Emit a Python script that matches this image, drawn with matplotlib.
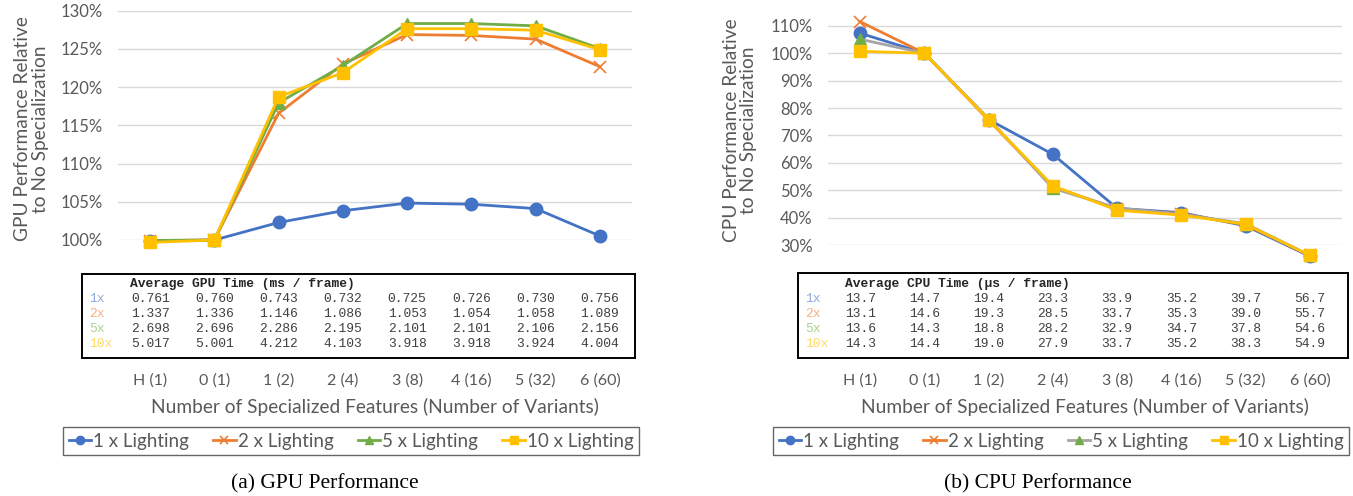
import matplotlib
matplotlib.use("Agg")
import matplotlib.pyplot as plt
from matplotlib.lines import Line2D
from matplotlib.patches import Rectangle
import matplotlib.transforms as mtransforms

W, H = 1353, 496
DPI = 100

categories = ["H (1)", "0 (1)", "1 (2)", "2 (4)", "3 (8)", "4 (16)", "5 (32)", "6 (60)"]
series_names = ["1 x Lighting", "2 x Lighting", "5 x Lighting", "10 x Lighting"]
row_labels = ["1x", "2x", "5x", "10x"]

# GPU relative performance
gpu_1x = [0.9987, 1.0000, 1.0229, 1.0383, 1.0483, 1.0468, 1.0411, 1.0053]
gpu_2x = [0.9993, 1.0000, 1.1658, 1.2302, 1.2688, 1.2676, 1.2628, 1.2268]
gpu_5x = [0.9993, 1.0000, 1.1794, 1.2282, 1.2832, 1.2832, 1.2802, 1.2505]
gpu_10x = [0.9968, 1.0000, 1.1873, 1.2189, 1.2764, 1.2764, 1.2745, 1.2490]

# CPU relative performance
cpu_1x = [1.073, 1.000, 0.758, 0.631, 0.434, 0.418, 0.370, 0.259]
cpu_2x = [1.115, 1.000, 0.756, 0.512, 0.433, 0.414, 0.374, 0.262]
cpu_5x = [1.051, 1.000, 0.761, 0.507, 0.435, 0.412, 0.378, 0.262]
cpu_10x = [1.007, 1.000, 0.758, 0.516, 0.427, 0.409, 0.376, 0.262]

# table values
gpu_time_1x = ["0.761", "0.760", "0.743", "0.732", "0.725", "0.726", "0.730", "0.756"]
gpu_time_2x = ["1.337", "1.336", "1.146", "1.086", "1.053", "1.054", "1.058", "1.089"]
gpu_time_5x = ["2.698", "2.696", "2.286", "2.195", "2.101", "2.101", "2.106", "2.156"]
gpu_time_10x = ["5.017", "5.001", "4.212", "4.103", "3.918", "3.918", "3.924", "4.004"]

cpu_time_1x = ["13.7", "14.7", "19.4", "23.3", "33.9", "35.2", "39.7", "56.7"]
cpu_time_2x = ["13.1", "14.6", "19.3", "28.5", "33.7", "35.3", "39.0", "55.7"]
cpu_time_5x = ["13.6", "14.3", "18.8", "28.2", "32.9", "34.7", "37.8", "54.6"]
cpu_time_10x = ["14.3", "14.4", "19.0", "27.9", "33.7", "35.2", "38.3", "54.9"]

gpu_ticks = [1.00, 1.05, 1.10, 1.15, 1.20, 1.25, 1.30]
cpu_ticks = [0.3, 0.4, 0.5, 0.6, 0.7, 0.8, 0.9, 1.0, 1.1]

BLUE, ORANGE, GREEN, YELLOW, GRAY = "#4472C4", "#ED7D31", "#70AD47", "#FFC000", "#A5A5A5"
LBLUE, LORANGE, LGREEN, LYELLOW = "#8FAADC", "#F4B183", "#A9D18E", "#FFD966"
TXT = "#595959"
SANS = ["Lato", "DejaVu Sans"]
MONO = ["Liberation Mono", "DejaVu Sans Mono"]
SERIF = ["Liberation Serif", "DejaVu Serif"]

fig = plt.figure(figsize=(W / DPI, H / DPI), dpi=DPI)


def px_rect(x0, y0, x1, y1):
    # pixel coords (top-left origin) -> figure fraction [l, b, w, h]
    return [x0 / W, 1 - y1 / H, (x1 - x0) / W, (y1 - y0) / H]


def style_axes(ax, ticks, ylim, fmt):
    ax.set_xlim(-0.5, len(categories) - 0.5)
    ax.set_ylim(*ylim)
    ax.set_yticks(ticks)
    ax.set_yticklabels([fmt(t) for t in ticks], family=SANS, fontsize=12, color=TXT)
    for s in ax.spines.values():
        s.set_visible(False)
    ax.grid(axis="y", color="#D9D9D9", linewidth=1.0)
    ax.set_axisbelow(True)
    ax.tick_params(axis="y", length=0, pad=11)
    ax.set_xticks(range(len(categories)))
    ax.set_xticklabels(categories, family=SANS, fontsize=11.5, color=TXT)
    ax.tick_params(axis="x", length=0)


def draw_series(ax, data, cpu=False):
    specs = [
        (BLUE, BLUE, "o", 9, {}),
        (ORANGE, ORANGE, "x", 9, {"markeredgewidth": 1.2}),
        (GRAY if cpu else GREEN, GREEN, "^", 8, {}),
        (YELLOW, YELLOW, "s", 9, {}),
    ]
    handles = []
    for (lc, mc, m, ms, kw), y, name in zip(specs, data, series_names):
        ax.plot(range(len(categories)), y, color=lc, linewidth=2.0, marker=m,
                markersize=ms, markerfacecolor=mc, markeredgecolor=mc,
                clip_on=False, label=name, **kw)
        handles.append(Line2D([0], [0], color=lc, linewidth=2.0, marker=m, markersize=6,
                              markerfacecolor=mc, markeredgecolor=mc, **kw))
    return handles


def draw_table(ax, header, rows, box, header_x_px):
    x0, y0, x1, y1 = box
    fig.patches.append(Rectangle((x0 / W, 1 - y1 / H), (x1 - x0) / W, (y1 - y0) / H,
                                 transform=fig.transFigure, fill=False,
                                 edgecolor="#000000", linewidth=1.4))
    fig.text(header_x_px / W, 1 - 284 / H, header, family=MONO, fontsize=9.4,
             fontweight="bold", color="#262626", ha="left", va="center")
    trans = mtransforms.blended_transform_factory(ax.transData, fig.transFigure)
    label_colors = [LBLUE, LORANGE, LGREEN, LYELLOW]
    for i, (lab, vals) in enumerate(zip(row_labels, rows)):
        ypx = 299 + 15 * i
        fig.text((x0 + 7) / W, 1 - ypx / H, lab, family=MONO, fontsize=9.4,
                 color=label_colors[i], ha="left", va="center")
        for j, v in enumerate(vals):
            ax.text(j, 1 - ypx / H, v, transform=trans, family=MONO, fontsize=9.4,
                    color="#404040", ha="center", va="center")


def draw_legend(handles, cx):
    leg = fig.legend(handles=handles, labels=series_names, ncol=4, loc="center",
                     bbox_to_anchor=(cx / W, 1 - 441 / H), frameon=True, fancybox=False,
                     prop={"family": SANS, "size": 13.5}, labelcolor=TXT, handlelength=1.2,
                     handletextpad=0.1, columnspacing=1.3, borderpad=0.3)
    leg.get_frame().set_edgecolor("#404040")
    leg.get_frame().set_linewidth(1.0)
    return leg


# ---------------- GPU panel ----------------
ax1 = fig.add_axes(px_rect(118, 10.7, 632, 240))
style_axes(ax1, gpu_ticks, (1.0, 1.30), lambda t: f"{round(t * 100)}%")
ax1.tick_params(axis="x", pad=133 * 0.72)
h1 = draw_series(ax1, [gpu_1x, gpu_2x, gpu_5x, gpu_10x])
ax1.text(-0.168, 0.485, "GPU Performance Relative\nto No Specialization", transform=ax1.transAxes,
         rotation=90, ha="center", va="center", family=SANS, fontsize=13.8, color=TXT,
         linespacing=1.05)
draw_table(ax1, "Average GPU Time (ms / frame)",
           [gpu_time_1x, gpu_time_2x, gpu_time_5x, gpu_time_10x], (82, 274, 635, 358), 130)
fig.text(375 / W, 1 - 407 / H, "Number of Specialized Features (Number of Variants)",
         family=SANS, fontsize=13.8, color=TXT, ha="center", va="center")
draw_legend(h1, 351)
fig.text(325 / W, 1 - 484 / H, "(a) GPU Performance", family=SERIF, fontsize=15.5,
         color="#000000", ha="center", va="center")

# ---------------- CPU panel ----------------
ax2 = fig.add_axes(px_rect(828, 11.3, 1342, 245))
style_axes(ax2, cpu_ticks, (0.30, 1.153), lambda t: f"{round(t * 100)}%")
ax2.tick_params(axis="x", pad=128 * 0.72)
h2 = draw_series(ax2, [cpu_1x, cpu_2x, cpu_5x, cpu_10x], cpu=True)
ax2.text(-0.171, 0.49, "CPU Performance Relative\nto No Specialization", transform=ax2.transAxes,
         rotation=90, ha="center", va="center", family=SANS, fontsize=13.8, color=TXT,
         linespacing=1.05)
draw_table(ax2, "Average CPU Time (\u00b5s / frame)",
           [cpu_time_1x, cpu_time_2x, cpu_time_5x, cpu_time_10x], (798, 273, 1348, 358), 845)
fig.text(1085 / W, 1 - 407 / H, "Number of Specialized Features (Number of Variants)",
         family=SANS, fontsize=13.8, color=TXT, ha="center", va="center")
draw_legend(h2, 1061)
fig.text(1038 / W, 1 - 484 / H, "(b) CPU Performance", family=SERIF, fontsize=15.5,
         color="#000000", ha="center", va="center")

fig.savefig("out.png", dpi=DPI)
